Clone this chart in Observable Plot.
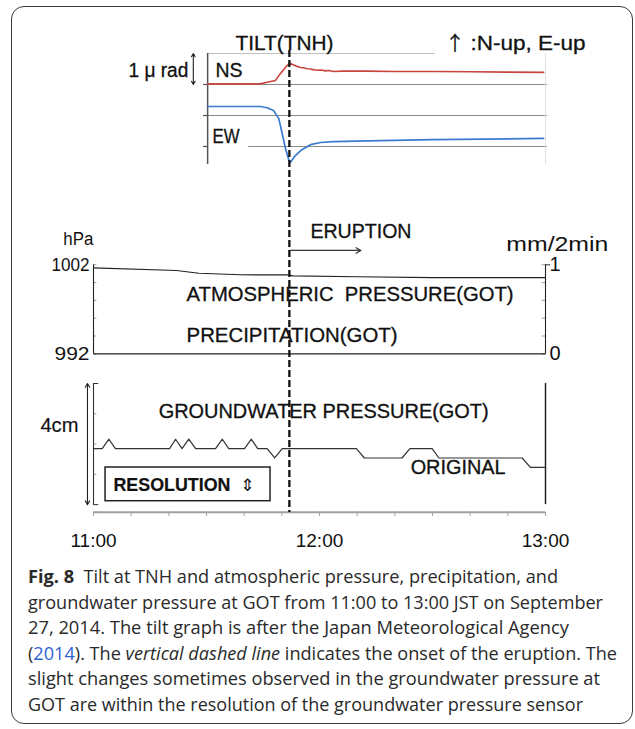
<!DOCTYPE html>
<html>
<head>
<meta charset="utf-8">
<script src="https://cdn.jsdelivr.net/npm/d3@7"></script>
<script src="https://cdn.jsdelivr.net/npm/@observablehq/plot@0.6"></script>
<style>
html, body { margin: 0; padding: 0; background: #fff; }
#fig { position: relative; width: 635px; height: 729px; overflow: hidden; font-family: "Liberation Sans", Arial, sans-serif; }
#frame { position: absolute; left: 11px; top: 6px; width: 622px; height: 718px; border: 1.4px solid #3a3a3a; border-radius: 13px; box-sizing: border-box; }
.panel { position: absolute; left: 0; }
#caption { position: absolute; left: 28px; top: 564px; font-family: "Open Sans", "Noto Sans", sans-serif; font-size: 18px; line-height: 25.6px; color: #2a2a2a; }
#caption .ln { white-space: nowrap; height: 25.6px; }
#caption .ln span { display: inline-block; transform-origin: 0 50%; }
#caption a { color: #2f62d6; text-decoration: none; }
</style>
</head>
<body>
<div id="fig"><div id="frame"></div></div>
<script>
// ---------- data (time in minutes after 11:00 JST, 27 Sep 2014) ----------
const xDomain = [0, 120];
const eruptionTime = 52;

// Tilt at TNH, µrad on the tilt grid (NS and EW traces)
const nsTime = [30.3, 44.3, 46.1, 48.3, 49.6, 51.0, 52.1, 53.0, 54.1, 55.0, 56.0, 56.7, 57.5, 58.3, 59.4, 60.5, 61.5, 62.5, 63.7, 66.0, 72.7, 80.0, 90.3, 100.0, 110.0, 119.5];
const nsTilt = [0.02, 0.02, 0.07, 0.13, 0.35, 0.56, 0.69, 0.64, 0.58, 0.55, 0.53, 0.51, 0.50, 0.48, 0.46, 0.47, 0.44, 0.45, 0.42, 0.43, 0.43, 0.42, 0.42, 0.41, 0.40, 0.39];
const ewTime = [30.3, 44.3, 46.1, 47.8, 49.2, 50.1, 51.0, 51.9, 52.3, 53.6, 55.0, 57.6, 60.3, 63.7, 72.7, 90.3, 119.5];
const ewTilt = [-0.71, -0.71, -0.75, -0.84, -1.10, -1.59, -2.08, -2.45, -2.51, -2.29, -2.13, -1.94, -1.87, -1.84, -1.82, -1.78, -1.74];

// Atmospheric pressure at GOT (hPa)
const pressTime = [0, 22, 28, 39, 51.5, 53, 70, 90, 120];
const pressure = [1001.66, 1001.36, 1001.05, 1000.88, 1000.86, 1000.76, 1000.66, 1000.55, 1000.55];

// Precipitation at GOT (mm/2min)
const precipTime = [0, 30, 60, 90, 120];
const precip = [0, 0, 0, 0, 0];

// Groundwater pressure at GOT (cm, on the 4 cm bracket)
const gwTime = [0, 2.3, 4.1, 5.8, 20.2, 21.8, 23.5, 25.3, 27.1, 32.4, 34.2, 35.9, 40.1, 41.9, 43.6, 46.1, 48.1, 50.1, 69.8, 71.9, 81.9, 84.0, 89.9, 91.7, 113.8, 116.0, 120];
const groundwater = [1.85, 1.85, 2.16, 1.85, 1.85, 2.16, 1.85, 2.16, 1.85, 1.85, 2.16, 1.85, 1.85, 2.16, 1.85, 1.85, 1.54, 1.85, 1.85, 1.54, 1.54, 1.85, 1.85, 1.54, 1.54, 1.23, 1.23];

// ticks and tick labels
const timeTicks = [0, 10, 20, 30, 40, 50, 60, 70, 80, 90, 100, 110, 120];
const timeLabelAt = [0, 60, 120];
const timeLabels = ["11:00", "12:00", "13:00"];
const tiltGrid = [1, 0, -1, -2];
const pressureTicks = [992, 994, 996, 998, 1000, 1002];
const pressureLabelAt = [1002, 992];
const pressureLabels = ["1002", "992"];
const precipLabelAt = [1, 0];
const precipLabels = ["1", "0"];
const gwTicks = [0, 1, 2, 3, 4];
const precipToHpa = v => 992 + v * 10; // right axis 0–1 mm/2min spans 992–1002 hPa

// ---------- layout ----------
const W = 635, ML = 93, MR = 90;
const FONT = "Liberation Sans, Arial, sans-serif";
const fig = document.getElementById("fig");
const zip = (xs, ys) => xs.map((x, i) => ({x, y: ys[i]}));

function place(svg, top) {
  const div = document.createElement("div");
  div.className = "panel";
  div.style.top = top + "px";
  div.appendChild(svg);
  fig.appendChild(div);
  return svg;
}
function fit(svg, widths) {
  d3.select(svg).selectAll("text").each(function () {
    const w = widths[this.textContent];
    if (w) { this.setAttribute("textLength", w); this.setAttribute("lengthAdjust", "spacingAndGlyphs"); }
  });
}
const base = (h, mt, mb, ydom) => ({
  width: W, height: h, marginLeft: ML, marginRight: MR, marginTop: mt, marginBottom: mb,
  x: {domain: xDomain, axis: null},
  y: ydom ? {domain: ydom, axis: null} : undefined,
  style: {background: "transparent", overflow: "visible", fontFamily: FONT, color: "#111"}
});
const label = (text, x, y, opts = {}) =>
  Plot.text([text], {x, y, text: d => d, lineAnchor: "middle", fill: "#111", stroke: "#111", strokeWidth: 0.3,
    fontFamily: FONT, fontSize: 20, ...opts});

// ---------- tilt panel ----------
const tiltAxisAt = 30.3;
const tilt = Plot.plot({
  ...base(175, 53, 11, [-2.58, 1]),
  marks: [
    Plot.ruleY([tiltGrid[0]], {y: d => d, x1: tiltAxisAt, x2: 90.8, stroke: "#c2c2c2", strokeWidth: 1}),
    Plot.ruleY([tiltGrid[1], tiltGrid[2]], {y: d => d, x1: tiltAxisAt, x2: 120.5, stroke: "#8a8a8a", strokeWidth: 1}),
    Plot.ruleY([tiltGrid[3]], {y: d => d, x1: 41.2, x2: 120.5, stroke: "#8a8a8a", strokeWidth: 1}),
    Plot.ruleX([120], {y1: -2.58, y2: 1, stroke: "#dedede", strokeWidth: 1}),
    Plot.ruleX([tiltAxisAt], {y1: -2.58, y2: 1, stroke: "#555", strokeWidth: 1.5}),
    Plot.ruleY([0, -1, -2], {y: d => d, x1: tiltAxisAt - 1.1, x2: tiltAxisAt, stroke: "#555", strokeWidth: 1.2}),
    Plot.line(zip(nsTime, nsTilt), {x: "x", y: "y", stroke: "#c8453f", strokeWidth: 1.6}),
    Plot.line(zip(ewTime, ewTilt), {x: "x", y: "y", stroke: "#3b7cd0", strokeWidth: 1.7}),
    Plot.arrow([0], {x1: 26.5, x2: 26.5, y1: 0.5, y2: 1, stroke: "#222", strokeWidth: 1.1, headLength: 5}),
    Plot.arrow([0], {x1: 26.5, x2: 26.5, y1: 0.5, y2: 0, stroke: "#222", strokeWidth: 1.1, headLength: 5}),
    label("TILT(TNH)", 37.7, 1.32, {textAnchor: "start"}),
    label("↑", 93.3, 1.30, {textAnchor: "start", fontSize: 20, fontFamily: "Noto Sans CJK JP", strokeWidth: 0.2}),
    label(":N-up, E-up", 100.1, 1.32, {textAnchor: "start", fontSize: 20}),
    label("1 μ rad", 25.2, 0.45, {textAnchor: "end", fontSize: 20}),
    label("NS", 32.4, 0.435, {textAnchor: "start"}),
    label("EW", 31.6, -1.69, {textAnchor: "start", fontSize: 20})
  ]
});
fit(tilt, {"TILT(TNH)": 98, ":N-up, E-up": 115, "1 μ rad": 60, "NS": 27, "EW": 27});
place(tilt, 0);

// ---------- atmospheric pressure / precipitation panel ----------
const press = Plot.plot({
  ...base(195, 89.3, 16.7, [992, 1002]),
  marks: [
    Plot.ruleY(pressureTicks, {y: d => d, x1: 0, x2: 0.9, stroke: "#9a9a9a"}),
    Plot.ruleY(pressureTicks, {y: d => d, x1: 119.1, x2: 120, stroke: "#9a9a9a"}),
    Plot.ruleY([precipToHpa(1)], {y: d => d, x1: 120, x2: 121.4, stroke: "#333"}),
    Plot.ruleX([0], {y1: 992, y2: 1002, stroke: "#222", strokeWidth: 1.1}),
    Plot.ruleX([120], {y1: 992, y2: 1002, stroke: "#222", strokeWidth: 1.1}),
    Plot.line(zip(precipTime, precip.map(precipToHpa)), {x: "x", y: "y", stroke: "#222", strokeWidth: 1.2}),
    Plot.line(zip(pressTime, pressure), {x: "x", y: "y", stroke: "#222", strokeWidth: 1.2}),
    Plot.text(pressureLabelAt, {x: 0, y: d => d, text: (d, i) => pressureLabels[i], dx: -4, textAnchor: "end", lineAnchor: "middle", fontSize: 18, fontFamily: FONT, fill: "#111"}),
    Plot.text(precipLabelAt, {x: 120, y: d => precipToHpa(d), text: (d, i) => precipLabels[i], dx: 4, textAnchor: "start", lineAnchor: "middle", fontSize: 20, fontFamily: FONT, fill: "#111"}),
    label("hPa", -8.0, 1004.84, {textAnchor: "start", fontSize: 18, strokeWidth: 0}),
    label("mm/2min", 109.6, 1004.34, {textAnchor: "start", fontSize: 21, strokeWidth: 0}),
    label("ERUPTION", 57.6, 1005.74, {textAnchor: "start"}),
    Plot.arrow([0], {x1: eruptionTime + 0.3, x2: eruptionTime + 19, y1: 1003.61, y2: 1003.61, stroke: "#333", strokeWidth: 1.2, headLength: 7}),
    label("ATMOSPHERIC  PRESSURE(GOT)", 24.7, 998.6, {textAnchor: "start"}),
    label("PRECIPITATION(GOT)", 24.7, 994.06, {textAnchor: "start"})
  ]
});
fit(press, {"hPa": 30, "mm/2min": 102, "ERUPTION": 101, "ATMOSPHERIC  PRESSURE(GOT)": 327, "PRECIPITATION(GOT)": 211, "1002": 38, "992": 35});
place(press, 175);

// ---------- groundwater panel ----------
const gw = Plot.plot({
  ...base(190, 13, 48.3, [-0.25, 4]),
  marks: [
    Plot.ruleY([gwTicks[1], gwTicks[2], gwTicks[3]], {y: d => d, x1: 0, x2: 0.9, stroke: "#9a9a9a"}),
    Plot.ruleY([gwTicks[0], gwTicks[4]], {y: d => d, x1: 0, x2: 1.4, stroke: "#333"}),
    Plot.ruleX([0], {y1: 0, y2: 4, stroke: "#333", strokeWidth: 1.1}),
    Plot.ruleX([120], {y1: 0, y2: 4, stroke: "#222", strokeWidth: 1.5}),
    Plot.arrow([0], {x1: -1.6, x2: -1.6, y1: 2, y2: 4, stroke: "#222", strokeWidth: 1.1, headLength: 6}),
    Plot.arrow([0], {x1: -1.6, x2: -1.6, y1: 2, y2: 0, stroke: "#222", strokeWidth: 1.1, headLength: 6}),
    Plot.line(zip(gwTime, groundwater), {x: "x", y: "y", stroke: "#333", strokeWidth: 1.2}),
    Plot.rect([0], {x1: 3.2, x2: 47.0, y1: 0.113, y2: 1.226, fill: "white", stroke: "#222", strokeWidth: 1.5}),
    label("RESOLUTION", 5.3, 0.63, {textAnchor: "start", fontSize: 18, fontWeight: "bold", strokeWidth: 0.2}),
    label("⇕", 39.0, 0.63, {textAnchor: "start", fontSize: 17, fontFamily: "DejaVu Sans", strokeWidth: 0}),
    label("4cm", -4.0, 2.61, {textAnchor: "end", strokeWidth: 0.15}),
    label("GROUNDWATER PRESSURE(GOT)", 17.3, 3.06, {textAnchor: "start"}),
    label("ORIGINAL", 84.2, 1.21, {textAnchor: "start"}),
    // time axis
    Plot.ruleY([-0.25], {y: d => d, x1: 0, x2: 120, stroke: "#a0a0a0", strokeWidth: 2}),
    Plot.ruleX(timeTicks, {x: d => d, y1: -0.25, y2: -0.39, stroke: "#a0a0a0", strokeWidth: 1}),
    Plot.text(timeLabelAt, {x: d => d, y: -0.25, text: (d, i) => timeLabels[i], dy: 28.3, lineAnchor: "middle", textAnchor: "middle", fontSize: 19, fontFamily: FONT, fill: "#111"})
  ]
});
fit(gw, {"RESOLUTION": 117, "4cm": 38, "GROUNDWATER PRESSURE(GOT)": 330, "ORIGINAL": 95});
place(gw, 370);

// ---------- eruption onset overlay ----------
const onset = Plot.plot({
  width: W, height: 560, marginLeft: ML, marginRight: MR, marginTop: 50, marginBottom: 48,
  x: {domain: xDomain, axis: null},
  style: {background: "transparent", overflow: "visible"},
  marks: [Plot.ruleX([eruptionTime], {stroke: "#111", strokeWidth: 2.3, strokeDasharray: "7,3"})]
});
place(onset, 0);

// ---------- caption ----------
const cap = document.createElement("div");
cap.id = "caption";
const lines = [
  ['<b>Fig. 8</b>&nbsp; Tilt at TNH and atmospheric pressure, precipitation, and', 530],
  ['groundwater pressure at GOT from 11:00 to 13:00 JST on September', 575],
  ['27, 2014. The tilt graph is after the Japan Meteorological Agency', 541],
  ['(<a>2014</a>). The <i>vertical dashed line</i> indicates the onset of the eruption. The', 589],
  ['slight changes sometimes observed in the groundwater pressure at', 572],
  ['GOT are within the resolution of the groundwater pressure sensor', 555]
];
cap.innerHTML = lines.map(([t]) => `<div class="ln"><span>${t}</span></div>`).join("");
fig.appendChild(cap);
cap.querySelectorAll(".ln span").forEach((s, i) => {
  const w = s.getBoundingClientRect().width;
  s.style.transform = `scaleX(${lines[i][1] / w})`;
});
</script>
</body>
</html>
